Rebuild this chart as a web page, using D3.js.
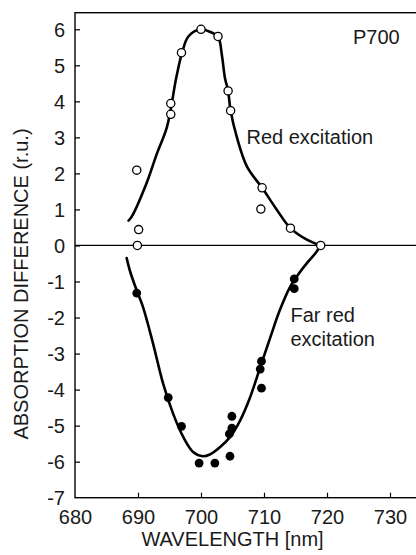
<!DOCTYPE html>
<html><head><meta charset="utf-8">
<script src="https://cdn.jsdelivr.net/npm/d3@7"></script>
<style>html,body{margin:0;padding:0;background:#fff;overflow:hidden}svg{display:block}</style>
</head><body>
<script>
// ---- data ----
const xTicks = [680, 690, 700, 710, 720, 730];
const yTicks = [-7, -6, -5, -4, -3, -2, -1, 0, 1, 2, 3, 4, 5, 6];

const redWl  = [689.8, 690.1, 689.9, 695.2, 695.2, 696.9, 700.0, 702.7, 704.3, 704.7, 709.7, 709.5, 714.2, 719.0];
const redVal = [2.09, 0.44, 0.0, 3.94, 3.64, 5.35, 6.0, 5.8, 4.29, 3.74, 1.6, 1.01, 0.48, 0.0];

const farWl  = [689.8, 694.8, 696.9, 699.7, 702.2, 704.6, 704.9, 704.9, 704.5, 709.6, 709.4, 709.6, 714.8, 714.8];
const farVal = [-1.32, -4.22, -5.02, -6.04, -6.04, -5.85, -4.74, -5.07, -5.23, -3.21, -3.43, -3.96, -0.93, -1.2];

const redCurveWl  = [688.5, 689.0, 691.4, 693.0, 694.6, 696.1, 697.0, 698.0, 700.0, 701.4, 702.7, 703.3, 703.8, 704.3, 704.7, 705.7, 707.3, 709.7, 712.0, 714.2, 716.8, 719.0];
const redCurveVal = [0.69, 0.8, 1.75, 2.55, 3.29, 4.68, 5.35, 5.8, 6.0, 5.93, 5.8, 5.3, 4.65, 4.29, 3.74, 3.0, 2.19, 1.6, 1.0, 0.48, 0.16, 0.0];

const farCurveWl  = [688.2, 688.8, 689.8, 690.8, 692.4, 694.0, 695.6, 697.2, 698.8, 700.3, 701.4, 703.0, 704.6, 706.2, 707.8, 709.4, 711.0, 712.5, 714.1, 715.2, 717.0, 718.1, 719.0];
const farCurveVal = [-0.35, -0.75, -1.25, -1.71, -2.73, -3.84, -4.68, -5.32, -5.74, -5.85, -5.8, -5.6, -5.32, -4.86, -4.21, -3.38, -2.55, -1.8, -1.16, -0.86, -0.45, -0.23, 0.0];

// ---- layout ----
const W = 416, H = 555;
const FONT = "'Liberation Sans', Arial, Helvetica, sans-serif";
const svg = d3.select("body").append("svg").attr("width", W).attr("height", H)
  .style("font-family", FONT);

const x = d3.scaleLinear().domain([680, 740]).range([75, 453]);
const y = d3.scaleLinear().domain([-7, 6.46]).range([497.7, 12.7]);

const g = svg.append("g");

// frame
g.append("rect").attr("x", x(680)).attr("y", y(6.46))
  .attr("width", x(740) - x(680)).attr("height", y(-7) - y(6.46))
  .attr("fill", "none").attr("stroke", "#000").attr("stroke-width", 1.4);

// zero line
g.append("line").attr("x1", x(680)).attr("x2", x(740)).attr("y1", y(0)).attr("y2", y(0))
  .attr("stroke", "#000").attr("stroke-width", 1.2);

// axes
const xAxis = d3.axisBottom(x).tickValues(xTicks).tickSize(-5).tickPadding(12).tickFormat(d3.format("d"));
const gx = g.append("g").attr("transform", `translate(0,${y(-7)})`).call(xAxis);
const yAxis = d3.axisLeft(y).tickValues(yTicks).tickSize(-5).tickPadding(10).tickFormat(d => d);
const gy = g.append("g").attr("transform", `translate(${x(680)},0)`).call(yAxis);
[gx, gy].forEach(a => {
  a.select(".domain").remove();
  a.selectAll(".tick line").attr("stroke", "#000").attr("stroke-width", 1.2);
  a.selectAll(".tick text").attr("fill", "#1a1a1a").style("font-size", "20px").style("font-family", FONT);
});
gx.selectAll(".tick text").attr("dy", "0.71em");
gy.selectAll(".tick text").attr("dy", "0.36em");
gy.selectAll(".tick").filter(d => d === -7).select("line").remove();
gx.selectAll(".tick").filter(d => d === 680).select("line").remove();

// curves
const line = d3.line().x(d => x(d[0])).y(d => y(d[1])).curve(d3.curveCatmullRom.alpha(0.5));
g.append("path").datum(d3.zip(redCurveWl, redCurveVal)).attr("d", line)
  .attr("fill", "none").attr("stroke", "#000").attr("stroke-width", 2.6).attr("stroke-linecap", "round");
g.append("path").datum(d3.zip(farCurveWl, farCurveVal)).attr("d", line)
  .attr("fill", "none").attr("stroke", "#000").attr("stroke-width", 2.6).attr("stroke-linecap", "round");

// points
g.selectAll("circle.far").data(d3.zip(farWl, farVal)).join("circle").attr("class", "far")
  .attr("cx", d => x(d[0])).attr("cy", d => y(d[1])).attr("r", 4.4).attr("fill", "#000");
g.selectAll("circle.red").data(d3.zip(redWl, redVal)).join("circle").attr("class", "red")
  .attr("cx", d => x(d[0])).attr("cy", d => y(d[1])).attr("r", 4.1)
  .attr("fill", "#fff").attr("stroke", "#000").attr("stroke-width", 1.3);

// annotations
const txt = (s, tx, ty, anchor) => svg.append("text").attr("x", tx).attr("y", ty)
  .attr("text-anchor", anchor || "start").attr("fill", "#1a1a1a").style("font-size", "20px").text(s);
txt("P700", 353, 43.5);
txt("Red excitation", 246.5, 144);
txt("Far red", 290.5, 321.5);
txt("excitation", 290.5, 346);
txt("WAVELENGTH [nm]", 232.5, 546, "middle");
svg.append("text").attr("transform", "translate(28,284) rotate(-90)")
  .attr("text-anchor", "middle").attr("fill", "#1a1a1a").style("font-size", "20px")
  .text("ABSORPTION DIFFERENCE (r.u.)");
</script>
</body></html>
